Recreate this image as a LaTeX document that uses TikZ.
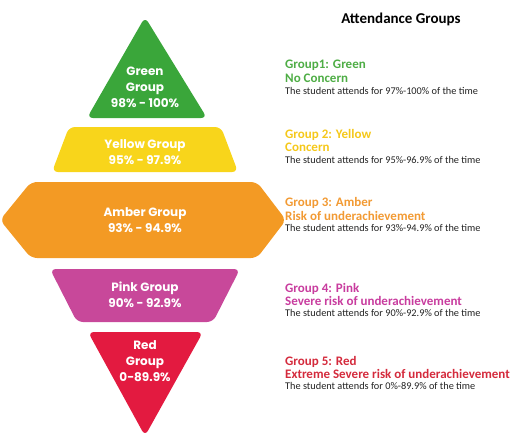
\documentclass[tikz,border=0pt]{standalone}
\usepackage{fontspec}
\setmainfont{Carlito}
\newfontfamily\popfont{Poppins}
\definecolor{cgreen}{HTML}{3AA63A}
\definecolor{cyellow}{HTML}{F8D51B}
\definecolor{camber}{HTML}{F39A24}
\definecolor{cpink}{HTML}{C8489A}
\definecolor{cred}{HTML}{E31A40}
\definecolor{tgreen}{HTML}{4EAD45}
\definecolor{tyellow}{HTML}{F5C81A}
\definecolor{tamber}{HTML}{F29A33}
\definecolor{tpink}{HTML}{C83C9E}
\definecolor{tred}{HTML}{D42A3C}
\definecolor{tdesc}{HTML}{222222}
\tikzset{
  shapetxt/.style={text=white, font=\popfont\bfseries\fontsize{12}{16}\selectfont, align=center, inner sep=0pt},
  headtxt/.style={anchor=west, font=\bfseries\fontsize{13}{13.5}\selectfont, align=left, inner sep=0pt},
  desctxt/.style={anchor=west, font=\fontsize{10.3}{11}\selectfont, text=tdesc, inner sep=0pt},
  band/.style={rounded corners=6pt}
}
\begin{document}
\begin{tikzpicture}[x=1pt,y=-1pt]
\useasboundingbox (0,0) rectangle (530,432);
% shapes
\fill[band, cgreen] (145,17) -- (207,118) -- (87,118) -- cycle;
\fill[band, cyellow] (69,127) -- (221,127) -- (238,172) -- (52,172) -- cycle;
\fill[band, camber] (31,182) -- (257,182) -- (286,220) -- (257,258) -- (31,258) -- (0,220) -- cycle;
\fill[band, cpink] (50,269) -- (240,269) -- (213,322) -- (77,322) -- cycle;
\fill[band, cred] (88,332) -- (203,332) -- (145,436) -- cycle;
% shape texts
\node[shapetxt] (g) at (145,87) {Green\\Group\\98\% - 100\%};
\node[shapetxt] (y) at (145,152) {Yellow Group\\95\% - 97.9\%};
\node[shapetxt] (a) at (145,220) {Amber Group\\93\% - 94.9\%};
\node[shapetxt] (p) at (145,295) {Pink Group\\90\% - 92.9\%};
\node[shapetxt] (r) at (145,361) {Red\\Group\\0-89.9\%};
% right texts
\node[font=\bfseries\fontsize{15}{17}\selectfont, text=black] (title) at (401,19) {Attendance Groups};
\node[headtxt, text=tgreen] (h1) at (285,71.5) {Group1: Green\\No Concern};
\node[desctxt] (d1) at (285,91) {The student attends for 97\%-100\% of the time};
\node[headtxt, text=tyellow] (h2) at (285,140.5) {Group 2: Yellow\\Concern};
\node[desctxt] (d2) at (285,160) {The student attends for 95\%-96.9\% of the time};
\node[headtxt, text=tamber] (h3) at (285,209) {Group 3: Amber\\Risk of underachievement};
\node[desctxt] (d3) at (285,227.5) {The student attends for 93\%-94.9\% of the time};
\node[headtxt, text=tpink] (h4) at (285,294.5) {Group 4: Pink\\Severe risk of underachievement};
\node[desctxt] (d4) at (285,313) {The student attends for 90\%-92.9\% of the time};
\node[headtxt, text=tred] (h5) at (285,367.5) {Group 5: Red\\Extreme Severe risk of underachievement};
\node[desctxt] (d5) at (285,385.5) {The student attends for 0\%-89.9\% of the time};
\end{tikzpicture}
\end{document}
